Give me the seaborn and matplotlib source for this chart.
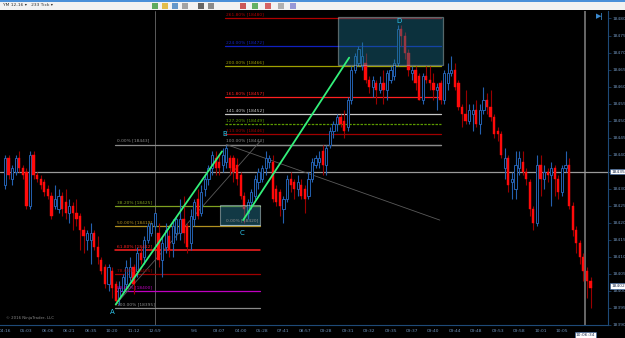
import numpy as np
import pandas as pd
import matplotlib
matplotlib.use("Agg")
import matplotlib.pyplot as plt
import seaborn as sns
from matplotlib.patches import Rectangle

# ---------------- data ----------------
opens = [18431,18439,18433,18435,18439,18436,18435,18425,18440,18434,18433,18432,18430,18428,18425,18424,18428,18426,18423,18425,
         18423,18422,18418,18415,18415,18417,18413,18409,18407,18402,18406,18402,18398,18400,18402,18404,18407,18406,18411,18410,
         18415,18417,18419,18417,18409,18413,18416,18414,18417,18417,18421,18419,18414,18421,18427,18423,18430,18433,18436,18439,
         18438,18437,18438,18439,18439,18437,18434,18428,18423,18426,18428,18432,18433,18436,18438,18438,18430,18429,18424,18427,
         18433,18432,18430,18431,18430,18428,18433,18437,18438,18441,18437,18443,18447,18449,18451,18450,18448,18456,18465,18467,
         18466,18467,18462,18460,18461,18459,18461,18459,18462,18463,18467,18477,18475,18470,18464,18465,18463,18456,18463,18462,
         18461,18459,18461,18456,18461,18464,18465,18461,18454,18452,18450,18452,18453,18449,18453,18456,18454,18451,18447,18446,
         18436,18439,18432,18430,18436,18438,18435,18432,18424,18420,18437,18433,18435,18434,18436,18433,18429,18436,18437,18425,
         18418,18414,18410,18406,18403]
highs = [18440,18440,18437,18440,18441,18437,18436,18441,18441,18435,18434,18433,18431,18429,18431,18430,18429,18430,18427,18426,
         18427,18423,18419,18418,18420,18418,18416,18410,18408,18408,18407,18403,18403,18405,18409,18410,18408,18413,18413,18416,
         18420,18420,18423,18420,18416,18420,18418,18421,18422,18427,18428,18420,18424,18427,18430,18431,18434,18437,18441,18441,
         18440,18442,18443,18440,18440,18439,18435,18429,18427,18430,18434,18436,18437,18441,18440,18440,18431,18430,18428,18434,
         18435,18433,18434,18433,18431,18435,18439,18440,18441,18443,18443,18448,18450,18452,18452,18453,18457,18466,18470,18472,
         18473,18470,18463,18463,18462,18463,18465,18465,18466,18468,18478,18478,18476,18471,18466,18466,18464,18464,18466,18466,
         18464,18461,18462,18465,18467,18469,18467,18462,18455,18459,18455,18455,18456,18455,18460,18458,18459,18452,18448,18447,
         18442,18440,18435,18441,18441,18441,18436,18433,18425,18440,18440,18437,18436,18438,18437,18434,18437,18441,18439,18426,
         18419,18415,18411,18407,18404]
lows = [18430,18433,18431,18434,18435,18433,18424,18424,18433,18432,18430,18428,18427,18421,18424,18423,18422,18421,18420,18418,
        18419,18412,18411,18412,18408,18412,18408,18405,18401,18400,18398,18396,18396,18399,18401,18403,18399,18404,18408,18408,
        18414,18416,18418,18407,18404,18411,18410,18410,18415,18415,18414,18411,18412,18419,18421,18422,18428,18431,18434,18434,
        18434,18435,18436,18434,18432,18431,18427,18420,18421,18424,18427,18430,18432,18434,18436,18426,18425,18422,18420,18426,
        18429,18427,18428,18427,18423,18427,18432,18436,18436,18434,18434,18442,18445,18447,18448,18445,18447,18455,18464,18466,
        18465,18461,18458,18457,18455,18458,18455,18456,18461,18462,18466,18472,18468,18463,18462,18459,18456,18455,18461,18459,
        18456,18453,18455,18455,18459,18463,18459,18453,18448,18449,18449,18447,18448,18446,18452,18452,18450,18445,18444,18439,
        18433,18429,18427,18427,18434,18434,18431,18422,18418,18419,18428,18430,18432,18425,18428,18427,18428,18435,18424,18416,
        18411,18408,18403,18398,18395]
closes = [18439,18434,18436,18439,18436,18434,18425,18440,18434,18433,18431,18429,18428,18422,18427,18428,18424,18423,18425,18423,
          18421,18418,18416,18417,18417,18413,18410,18406,18402,18407,18401,18397,18401,18404,18407,18407,18402,18411,18409,18415,
          18419,18420,18423,18409,18414,18418,18412,18419,18421,18421,18417,18413,18422,18426,18422,18429,18433,18436,18440,18436,
          18436,18440,18442,18436,18435,18433,18428,18424,18426,18429,18433,18435,18436,18439,18439,18427,18426,18425,18427,18433,
          18431,18430,18432,18428,18427,18433,18438,18439,18439,18437,18442,18447,18449,18451,18449,18447,18456,18465,18469,18471,
          18469,18462,18460,18462,18459,18461,18459,18464,18465,18467,18477,18475,18470,18465,18465,18461,18456,18463,18462,18461,
          18459,18460,18456,18464,18464,18465,18460,18454,18452,18450,18453,18453,18449,18453,18456,18454,18451,18446,18446,18440,
          18439,18431,18433,18437,18439,18435,18433,18424,18420,18437,18433,18435,18434,18436,18433,18429,18436,18437,18425,18418,
          18414,18410,18406,18403,18401]

time_tick_bars = [0, 6, 12, 18, 24, 30, 36, 42, 53, 60, 66, 72, 78, 84, 90, 96, 102, 108, 114, 120, 126, 132, 138, 144, 150, 156]
time_tick_labels = ["04:16", "05:03", "06:06", "06:21", "06:35", "10:20", "11:12", "12:59", "5/6", "03:07", "04:00", "05:28",
                    "07:41", "08:57", "09:28", "09:31", "09:32", "09:35", "09:37", "09:40", "09:44", "09:48", "09:53",
                    "09:58", "10:01", "10:05"]
price_ticks = [18390, 18395, 18400, 18405, 18410, 18415, 18420, 18425, 18430, 18435, 18440, 18445, 18450, 18455,
               18460, 18465, 18470, 18475, 18480]

retr_ratios = ["0.00%", "38.20%", "50.00%", "61.80%", "78.60%", "88.60%", "100.00%"]
retr_prices = [18443, 18425, 18419, 18412, 18405, 18400, 18395]
ext_ratios = ["100.00%", "113.00%", "127.20%", "141.40%", "161.80%", "200.00%", "224.00%", "261.80%"]
ext_prices = [18443, 18446, 18449, 18452, 18457, 18466, 18472, 18480]

# ---------------- styling ----------------
sns.set_style("dark", {"axes.facecolor": "black", "figure.facecolor": "black"})
plt.rcParams["font.family"] = ["DejaVu Sans"]

W, H = 625, 338
fig = plt.figure(figsize=(W / 100, H / 100), dpi=100)
fig.patch.set_facecolor("black")
ax = fig.add_axes([0, (H - 325) / H, 608 / W, (325 - 11) / H])
ax.set_facecolor("black")

df = pd.DataFrame({"o": opens, "h": highs, "l": lows, "c": closes})
df["i"] = np.arange(len(df))
up = df[df.c >= df.o]
dn = df[df.c < df.o]

BLUE = "#2460B0"
RED = "#FF0A0A"
WICK_RED = "#9A0000"

ax.vlines(up.i, up.l, up.h, color=BLUE, lw=0.8, zorder=3)
ax.vlines(dn.i, dn.l, dn.h, color=WICK_RED, lw=0.8, zorder=3)
ax.bar(up.i, (up.c - up.o).clip(lower=0.3), bottom=up.o, width=0.62, facecolor="black",
       edgecolor=BLUE, linewidth=0.7, zorder=4)
ax.bar(dn.i, (dn.o - dn.c), bottom=dn.c, width=0.62, facecolor=RED, edgecolor=RED, linewidth=0.3, zorder=4)

ax.set_xlim(-1.4, 168.9)
ax.set_ylim(18390.9, 18482.2)

# crosshair / session lines
ax.axhline(18435, color="#9a9a9a", lw=0.9, zorder=2)
ax.axvline(42, color="#6a6a6a", lw=0.6, zorder=1)
ax.axvline(162.5, color="#7a7a7a", lw=1.2, zorder=1)

# anchors of the drawing objects (bar index, price)
A = (31, 18396)
B = (62, 18443)
C = (67, 18420)
D = (110, 18478)

# fibonacci retracement A->B
retr_cols = ["#8a8a8a", "#7FA020", "#B09020", "#FF2020", "#A00000", "#C000C0", "#8a8a8a"]
for r, p, col in zip(retr_ratios, retr_prices, retr_cols):
    x1 = 122 if r == "0.00%" else 71.4
    ax.plot([30.8, x1], [p, p], color=col, lw=0.9 if col != "#FF2020" else 1.1, zorder=2)
    ax.text(31.5, p + 0.5, f"{r} [{p}]", color=col, fontsize=3.2, va="bottom", ha="left", zorder=6)

# fibonacci extension from C
ext_cols = ["#8a8a8a", "#A00000", "#5C9A00", "#C8C8C8", "#FF2020", "#A0A000", "#1020C0", "#B00000"]
for r, p, col in zip(ext_ratios, ext_prices, ext_cols):
    ls = (0, (2, 1)) if r == "127.20%" else "-"
    ax.plot([61.6, 122], [p, p], color=col, lw=0.9, ls=ls, zorder=2)
    ax.text(61.8, p + 0.5, f"{r} [{p}]", color=col, fontsize=3.2, va="bottom", ha="left", zorder=6)

# C-level zero line
ax.plot([60.2, 71.4], [C[1] - 0.5, C[1] - 0.5], color="#8a8a8a", lw=0.8, zorder=5)
ax.text(61.8, C[1], f"0.00% [{C[1]}]", color="#8a8a8a", fontsize=3.2, va="bottom", zorder=6)

# boxes
ax.add_patch(Rectangle((60.2, 18419.3), 11.2, 5.8, facecolor="#2a7f9a", alpha=0.45, edgecolor="#d8eef0",
                       lw=0.8, zorder=5))
ax.add_patch(Rectangle((93.3, 18466.2), 29.4, 14.2, facecolor="#1b6f88", alpha=0.45, edgecolor="#b8c8c8",
                       lw=0.9, zorder=5))

# thin gray construction lines
ax.plot([A[0], 71.5], [A[1], 18444], color="#5a5a5a", lw=0.6, zorder=2)
ax.plot([B[0], 121.8], [B[1], 18420.8], color="#5a5a5a", lw=0.6, zorder=2)

# green channel lines
ch = pd.DataFrame({"x": [A[0], 60.8, C[0] - 0.3, 96.4],
                   "y": [A[1], 18441, C[1] + 0.8, 18468.5],
                   "g": ["a", "a", "b", "b"]})
sns.lineplot(data=ch, x="x", y="y", units="g", estimator=None, color="#33F07A", lw=1.3, ax=ax, zorder=6)

# point labels
lab_col = "#2EC8F0"
ax.text(A[0] - 1, A[1] - 1.2, "A", color=lab_col, fontsize=5, ha="center", va="top", zorder=7)
ax.text(B[0] - 0.5, B[1] + 2.3, "B", color=lab_col, fontsize=5, ha="center", va="bottom", zorder=7)
ax.text(C[0] - 0.5, C[1] - 2.2, "C", color=lab_col, fontsize=5, ha="center", va="top", zorder=7)
ax.text(D[0] + 0.3, D[1] + 0.4, "D", color=lab_col, fontsize=5, ha="center", va="bottom", zorder=7)

ax.text(0.3, 18391.6, "© 2016 NinjaTrader, LLC", color="#8a8a8a", fontsize=2.8, va="bottom", zorder=7)

# axes styling
AXC = "#1E4A78"
TXT = "#6E90B8"
for s in ["top", "left"]:
    ax.spines[s].set_visible(False)
ax.spines["right"].set_color(AXC)
ax.spines["bottom"].set_color(AXC)
ax.spines["right"].set_linewidth(0.8)
ax.spines["bottom"].set_linewidth(0.8)
ax.yaxis.tick_right()
ax.set_yticks(price_ticks)
ax.set_yticklabels([str(p) for p in price_ticks], fontsize=3.2, color=TXT)
ax.set_xticks(time_tick_bars)
ax.set_xticklabels(time_tick_labels, fontsize=3.2, color=TXT)
ax.tick_params(axis="both", length=2, width=0.5, color=AXC, pad=1)
ax.grid(False)
ax.set_xlabel("")
ax.set_ylabel("")

# boxed axis markers
bb = dict(boxstyle="square,pad=0.15", facecolor="white", edgecolor="#3060a0", lw=0.4)
ax.text(1.005, 18435, "18435", transform=ax.get_yaxis_transform(), fontsize=3.2, color="#203050",
        va="center", ha="left", bbox=bb, zorder=8, clip_on=False)
ax.text(1.005, closes[-1] + 0.5, str(closes[-1] + 1), transform=ax.get_yaxis_transform(), fontsize=3.2,
        color="#203050", va="center", ha="left", bbox=bb, zorder=8, clip_on=False)
ax.text(162.5, -0.025, "10:06:34", transform=ax.get_xaxis_transform(), fontsize=3.2, color="#203050",
        va="top", ha="center", bbox=bb, zorder=8, clip_on=False)

# right-top icon
fig.text(600 / W, 1 - 16 / H, "▶|", color="#3A8AD0", fontsize=5, ha="center", va="center", fontweight="bold")

# toolbar strip
fig.patches.append(Rectangle((0, 1 - 10 / H), 1, 10 / H, transform=fig.transFigure, facecolor="#F2F2F2",
                             edgecolor="none", zorder=0))
fig.patches.append(Rectangle((0, 1 - 1.5 / H), 1, 1.5 / H, transform=fig.transFigure, facecolor="#4A90D9",
                             edgecolor="none", zorder=1))
fig.text(3 / W, 1 - 5.5 / H, "YM 12-16 ▾   233 Tick ▾", color="#303030", fontsize=3.2, va="center")
icon_cols = ["#3a9a3a", "#e0b020", "#4080c0", "#909090", "#404040", "#707070", "#c03030", "#40a040", "#d04040",
             "#a0a0a0", "#8080d0"]
icon_x = [152, 162, 172, 182, 198, 208, 240, 252, 265, 278, 290]
for c_, xx in zip(icon_cols, icon_x):
    fig.patches.append(Rectangle((xx / W, 1 - 8.5 / H), 6 / W, 6 / H, transform=fig.transFigure,
                                 facecolor=c_, edgecolor="none", zorder=2, alpha=0.8))

fig.savefig("out.png", dpi=100, facecolor="black")
